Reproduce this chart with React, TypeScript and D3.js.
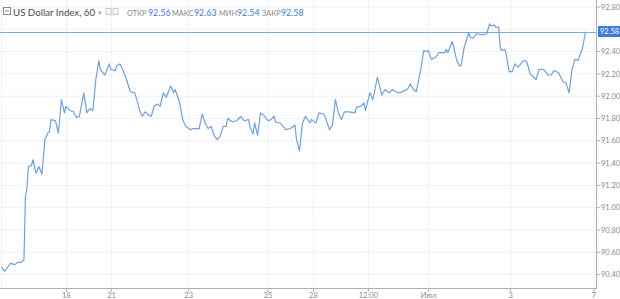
import React from "react";
import * as d3 from "d3";

// hourly bar index (time) and close prices
const hours = [1,3,7,10,12,14,16,17,18,19,21,22,24,26,28,30,32,33,34,37,39,41,43,44,47,49,51,53,56,58,60,62,64,66,67,70,73,74,77,78,80,82,84,87,90,92,93,95,97,99,101,103,105,107,109,111,114,116,117,118,120,122,124,127,129,133,135,137,139,141,143,145,147,149,151,152,155,158,161,163,166,167,169,170,172,174,176,179,181,183,184,187,191,194,197,198,200,202,204,207,208,211,213,216,217,220,222,224,226,228,230,233,237,238,241,243,244,247,249,252,255,257,260,262,264,267,270,272,274,276,278,281,283,285,286,288,291,293,297,298,299,302,303,305,307,308,310,313,314,316,318,322,325,327,328,330,331,333,334,335,337,338,340,342,344,346,349,351,352,354,358,360,363,366,368,370,373,376,378,380,382,384,386,389,391];
const prices = [90.47,90.43,90.50,90.49,90.51,90.51,90.53,91.10,91.18,91.37,91.38,91.43,91.31,91.37,91.30,91.61,91.67,91.68,91.79,91.78,91.67,91.97,91.85,91.91,91.87,91.86,91.81,91.82,92.03,91.85,91.89,91.87,92.15,92.32,92.24,92.19,92.29,92.24,92.23,92.27,92.29,92.24,92.17,92.04,92.03,91.94,91.88,91.82,91.86,91.83,91.82,91.91,91.93,91.91,92.03,91.99,92.09,92.03,92.06,92.02,91.94,91.79,91.73,91.70,91.71,91.71,91.84,91.76,91.71,91.73,91.65,91.61,91.64,91.73,91.73,91.80,91.77,91.78,91.82,91.78,91.79,91.72,91.66,91.76,91.65,91.85,91.83,91.78,91.79,91.82,91.77,91.76,91.70,91.71,91.74,91.61,91.51,91.76,91.82,91.76,91.79,91.76,91.85,91.84,91.82,91.70,91.74,91.97,91.85,91.79,91.86,91.86,91.85,91.90,91.91,91.94,91.87,92.03,91.97,92.17,92.01,92.06,92.03,92.06,92.04,92.03,92.05,92.06,92.11,92.06,92.04,92.24,92.41,92.40,92.41,92.33,92.35,92.39,92.39,92.42,92.39,92.49,92.44,92.32,92.27,92.28,92.44,92.57,92.53,92.52,92.56,92.55,92.56,92.65,92.63,92.64,92.62,92.62,92.44,92.41,92.42,92.38,92.22,92.22,92.29,92.26,92.31,92.32,92.30,92.20,92.15,92.24,92.24,92.19,92.19,92.23,92.21,92.13,92.12,92.03,92.24,92.33,92.32,92.43,92.58];

const yTicks = [92.8, 92.6, 92.4, 92.2, 92.0, 91.8, 91.6, 91.4, 91.2, 91.0, 90.8, 90.6, 90.4];
const xTickHours = [44.3, 74.5, 126, 179, 209.3, 246, 286.3, 341, 396.7];
const xTickLabels = ["18", "21", "23", "25", "28", "12:00", "Июл", "3", "7"];

const title = "US Dollar Index, 60";
const ohlcLabels = ["ОТКР", "МАКС", "МИН", "ЗАКР"];
const ohlcValues = ["92.56", "92.63", "92.54", "92.58"];
const lastPrice = 92.58;

const W = 620, H = 299;
const FONT = "Lato, 'Open Sans', sans-serif";

export default function App() {
  const x = d3.scaleLinear().domain([0, 398]).range([0, 596]);
  const y = d3.scaleLinear().domain([90.4, 92.8]).range([274.6, 7]);
  const data = hours.map((h, i) => [h, prices[i]] as [number, number]);
  const line = d3.line<[number, number]>().x(d => x(d[0])).y(d => y(d[1]));
  const axisX = 596;
  const axisY = 288;
  const grid = "#eef1f6";
  const blue = "#3b7ddd";
  const ohlcX = [127, 172, 219, 262];
  const valX = [148, 194, 237, 281];
  return (
    <svg width={W} height={H} style={{ position: "fixed", left: 0, top: 0, background: "#fff" }} fontFamily={FONT}>
      <rect x={0} y={0} width={W} height={H} fill="#fff" />
      {/* grid */}
      {yTicks.map((t, i) => (
        <line key={"gy" + i} x1={0} x2={axisX} y1={y(t)} y2={y(t)} stroke={grid} strokeWidth={1} />
      ))}
      {xTickHours.map((t, i) => (
        <line key={"gx" + i} x1={x(t)} x2={x(t)} y1={0} y2={axisY} stroke={grid} strokeWidth={1} />
      ))}
      <line x1={1.5} x2={1.5} y1={0} y2={axisY} stroke={grid} />
      {/* price line */}
      <line x1={0} x2={axisX} y1={Math.round(y(lastPrice)) + 0.5} y2={Math.round(y(lastPrice)) + 0.5} stroke="#7aa7ea" strokeWidth={1} />
      {/* series */}
      <path d={line(data) || ""} fill="none" stroke="#6f9fe6" strokeWidth={1.2} strokeLinejoin="round" />
      {/* axes */}
      <line x1={axisX + 0.5} x2={axisX + 0.5} y1={0} y2={axisY} stroke="#b0b0b0" strokeWidth={1} />
      <line x1={0} x2={axisX + 1} y1={axisY + 0.5} y2={axisY + 0.5} stroke="#b0b0b0" strokeWidth={1} />
      {yTicks.filter(t => Math.abs(t - 92.6) > 1e-6).map((t, i) => (
        <g key={"yt" + i}>
          <line x1={axisX + 1} x2={axisX + 4} y1={y(t)} y2={y(t)} stroke="#b0b0b0" />
          <text x={601} y={y(t)} dy="0.35em" fontSize={7.5} fill="#8a8a8a">{t.toFixed(2)}</text>
        </g>
      ))}
      {xTickHours.map((t, i) => (
        <g key={"xt" + i}>
          <line x1={x(t)} x2={x(t)} y1={axisY + 1} y2={axisY + 4} stroke="#b0b0b0" />
          <text x={x(t)} y={295} dy="0.35em" fontSize={7.5} fill="#8a8a8a" textAnchor="middle">{xTickLabels[i]}</text>
        </g>
      ))}
      {/* last price label */}
      <rect x={598} y={y(lastPrice) - 5.5} width={22} height={11} fill={blue} />
      <text x={600} y={y(lastPrice)} dy="0.35em" fontSize={7.5} fill="#fff">{lastPrice.toFixed(2)}</text>
      {/* header */}
      <rect x={3.5} y={7.5} width={7} height={7} fill="none" stroke="#8a8a8a" strokeWidth={1} />
      <line x1={5} x2={9} y1={11} y2={11} stroke="#8a8a8a" />
      <text x={13} y={15.5} fontSize={9.7} fill="#4a4a4a">{title}</text>
      <text x={98} y={14.5} fontSize={6.5} fill="#aaa">▾</text>
      <rect x={106} y={8.5} width={5} height={6} fill="none" stroke="#c8c8c8" />
      <rect x={113} y={8.5} width={5} height={6} fill="none" stroke="#c8c8c8" />
      {ohlcLabels.map((l, i) => (
        <g key={"o" + i}>
          <text x={ohlcX[i]} y={15.5} fontSize={7.4} fill="#8a8a8a">{l}</text>
          <text x={valX[i]} y={15.5} fontSize={8.8} fill={blue}>{ohlcValues[i]}</text>
        </g>
      ))}
    </svg>
  );
}
